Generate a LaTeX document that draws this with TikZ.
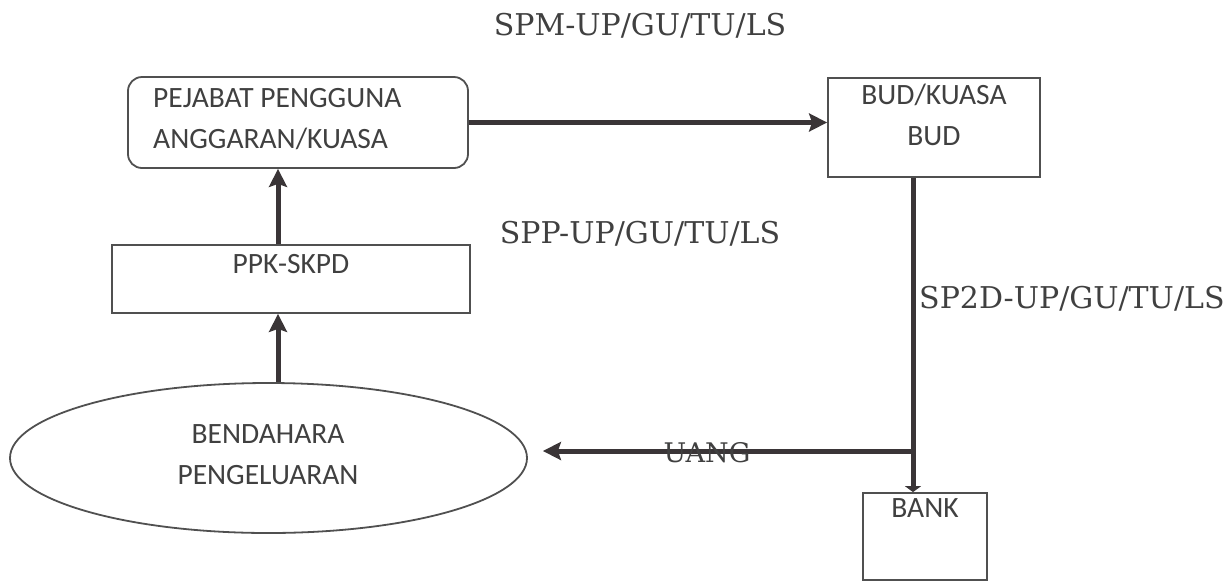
\documentclass[tikz,border=0pt]{standalone}
\usepackage{fontspec}
\newfontfamily\boxfont{Carlito}
\newfontfamily\lblfont{DejaVu Serif}
\usetikzlibrary{arrows.meta,shapes.geometric}
\definecolor{linec}{HTML}{3A3537}
\definecolor{boxc}{HTML}{505050}
\definecolor{textc}{HTML}{404040}
\tikzset{
  boxshape/.style={draw=boxc, line width=1.8pt, inner sep=0pt},
  boxtext/.style={text=textc, inner sep=0pt, font=\boxfont\fontsize{29.5}{41}\selectfont},
  lbl/.style={text=textc, inner sep=0pt, font=\lblfont\fontsize{30}{36}\selectfont},
  conn/.style={draw=linec, line width=5pt, -{Stealth[length=18pt,width=18pt,inset=3pt]}},
  flow/.style={draw=linec, line width=5pt},
}
\begin{document}
\begin{tikzpicture}[x=1pt,y=-1pt]
\useasboundingbox (0,0) rectangle (1231,582);
% shapes
\node[boxshape, rounded corners=14pt, minimum width=340pt, minimum height=91pt] (pa) at (298,122.5) {};
\node[boxshape, minimum width=212pt, minimum height=99pt] (bud) at (934,127.5) {};
\node[boxshape, minimum width=358pt, minimum height=68pt] (ppk) at (291,279) {};
\node[boxshape, ellipse, minimum width=517pt, minimum height=150pt] (ell) at (268.5,458) {};
\node[boxshape, minimum width=124pt, minimum height=87pt] (bank) at (925,536.5) {};
% texts in shapes
\node[boxtext, align=left, anchor=west] (pat) at (153,119.5) {PEJABAT PENGGUNA\\ANGGARAN/KUASA};
\node[boxtext, align=center] (budt) at (934,115) {BUD/KUASA\\BUD};
\node[boxtext] (ppkt) at (291,264) {PPK-SKPD};
\node[boxtext, align=center] (ellt) at (268,455) {BENDAHARA\\PENGELUARAN};
\node[boxtext] (bankt) at (925,508) {BANK};
% labels
\node[lbl, anchor=base] (spm) at (640,35) {SPM-UP/GU/TU/LS};
\node[lbl, anchor=base] (spp) at (640,243) {SPP-UP/GU/TU/LS};
\node[lbl, anchor=base west] (sp2d) at (919,308) {SP2D-UP/GU/TU/LS};
% connector helpers
\coordinate (cx) at (278,0);
\coordinate (vx) at (913,0);
\coordinate (j) at (913,451);
% connectors
\draw[conn] (pa.east) -- (pa.east -| bud.west);
\draw[conn] (ppk.north -| cx) -- (pa.south -| cx);
\draw[conn] (ell.north -| cx) -- (ppk.south -| cx);
\draw[flow, -{Stealth[length=6pt,width=16pt,inset=0pt]}] (bud.south -| vx) -- (bank.north -| vx);
\draw[conn, shorten >=15pt] (j) -- (ell.east |- j);
\node[lbl, font=\lblfont\fontsize{27}{34}\selectfont, anchor=base] (uang) at (707,462) {UANG};
\end{tikzpicture}
\end{document}
